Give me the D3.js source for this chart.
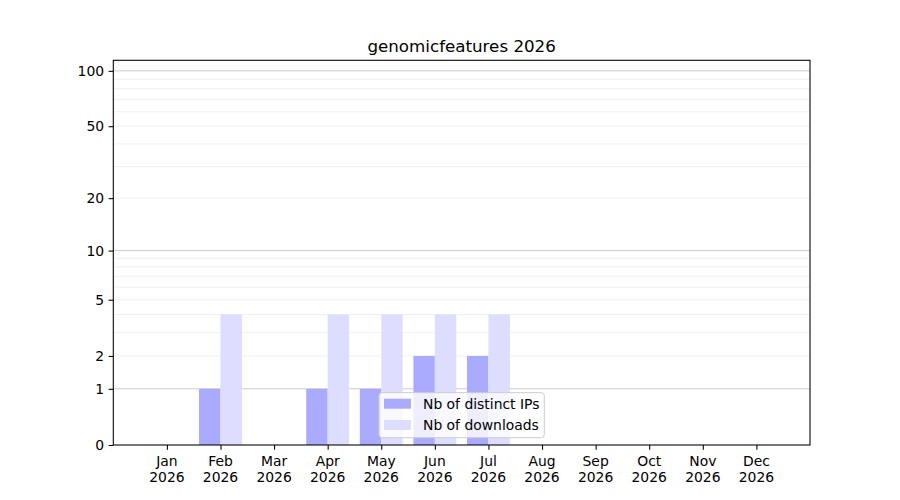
<!DOCTYPE html>
<html>
<head>
<meta charset="utf-8">
<script src="https://cdn.jsdelivr.net/npm/d3@7"></script>
<style>
  body { margin: 0; background: #fff; }
  svg { display: block; font-family: "DejaVu Sans", sans-serif; }
</style>
</head>
<body>
<svg id="chart" width="900" height="500"></svg>
<script>
const title = "genomicfeatures 2026";
const months = ["Jan","Feb","Mar","Apr","May","Jun","Jul","Aug","Sep","Oct","Nov","Dec"];
const yearLabel = "2026";
const distinctIPs = [0,1,0,1,1,2,2,0,0,0,0,0];
const downloads   = [0,4,0,4,4,4,4,0,0,0,0,0];
const seriesNames = ["Nb of distinct IPs", "Nb of downloads"];
const seriesColors = ["#aaaaff", "#ddddff"];
const yTickValues = [0,1,2,5,10,20,50,100];
const yMajorGrid = [1,10,100];
const yMinorGrid = [2,3,4,5,6,7,8,9,20,30,40,50,60,70,80,90];
const yMax = 114;

const svg = d3.select("#chart");
const L = 113.3, R = 810, T = 60.3, B = 445;
const FS = "13.9px";

const x = d3.scaleLinear().domain([-1, 12]).range([L, R]);
const y = d3.scaleSymlog().constant(1).domain([0, yMax]).range([B, T]);
const barW = x(0.4) - x(0);

// grid
svg.append("g").selectAll("line").data(yMinorGrid).join("line")
  .attr("x1", L).attr("x2", R)
  .attr("y1", d => y(d)).attr("y2", d => y(d))
  .attr("stroke", "#ececec").attr("stroke-width", 0.8);
svg.append("g").selectAll("line").data(yMajorGrid).join("line")
  .attr("x1", L).attr("x2", R)
  .attr("y1", d => y(d)).attr("y2", d => y(d))
  .attr("stroke", "#cccccc").attr("stroke-width", 1);

// bars
const idx = d3.range(months.length);
svg.append("g").selectAll("rect").data(idx.filter(i => distinctIPs[i] > 0)).join("rect")
  .attr("x", i => x(i) - barW).attr("width", barW)
  .attr("y", i => y(distinctIPs[i])).attr("height", i => B - y(distinctIPs[i]))
  .attr("fill", seriesColors[0]);
svg.append("g").selectAll("rect").data(idx.filter(i => downloads[i] > 0)).join("rect")
  .attr("x", i => x(i)).attr("width", barW)
  .attr("y", i => y(downloads[i])).attr("height", i => B - y(downloads[i]))
  .attr("fill", seriesColors[1]);

// axes frame
svg.append("rect").attr("x", L).attr("y", T).attr("width", R - L).attr("height", B - T)
  .attr("fill", "none").attr("stroke", "#000").attr("stroke-width", 1.07);

// y axis
const yAxis = d3.axisLeft(y).tickValues(yTickValues).tickFormat(d3.format("d"))
  .tickSize(4.7).tickPadding(4.5);
const gy = svg.append("g").attr("transform", `translate(${L},0)`).call(yAxis);
gy.select(".domain").remove();
gy.selectAll("line").attr("stroke", "#000").attr("stroke-width", 1.07);
gy.selectAll("text").attr("font-size", FS).attr("fill", "#000").attr("font-family", "DejaVu Sans");

// x axis
const xAxis = d3.axisBottom(x).tickValues(idx).tickFormat("").tickSize(4.7);
const gx = svg.append("g").attr("transform", `translate(0,${B})`).call(xAxis);
gx.select(".domain").remove();
gx.selectAll("line").attr("stroke", "#000").attr("stroke-width", 1.07);
const xl = svg.append("g");
idx.forEach(i => {
  const t = xl.append("text").attr("x", x(i)).attr("y", 466)
    .attr("text-anchor", "middle").attr("font-size", FS).attr("fill", "#000");
  t.append("tspan").attr("x", x(i)).text(months[i]);
  t.append("tspan").attr("x", x(i)).attr("dy", 15.8).text(yearLabel);
});

// title
svg.append("text").attr("x", (L + R) / 2).attr("y", 52).attr("text-anchor", "middle")
  .attr("font-size", "16.7px").attr("fill", "#000").text(title);

// legend
const lg = svg.append("g");
lg.append("rect").attr("x", 379).attr("y", 392.7).attr("width", 165.3).attr("height", 45)
  .attr("rx", 3).attr("fill", "#fff").attr("fill-opacity", 0.8)
  .attr("stroke", "#cccccc").attr("stroke-width", 1);
seriesNames.forEach((name, k) => {
  const yy = 398.7 + k * 21.3;
  lg.append("rect").attr("x", 384).attr("y", yy).attr("width", 27).attr("height", 10)
    .attr("fill", seriesColors[k]);
  lg.append("text").attr("x", 423).attr("y", yy + 10).attr("font-size", FS)
    .attr("fill", "#000").text(name);
});
</script>
</body>
</html>
